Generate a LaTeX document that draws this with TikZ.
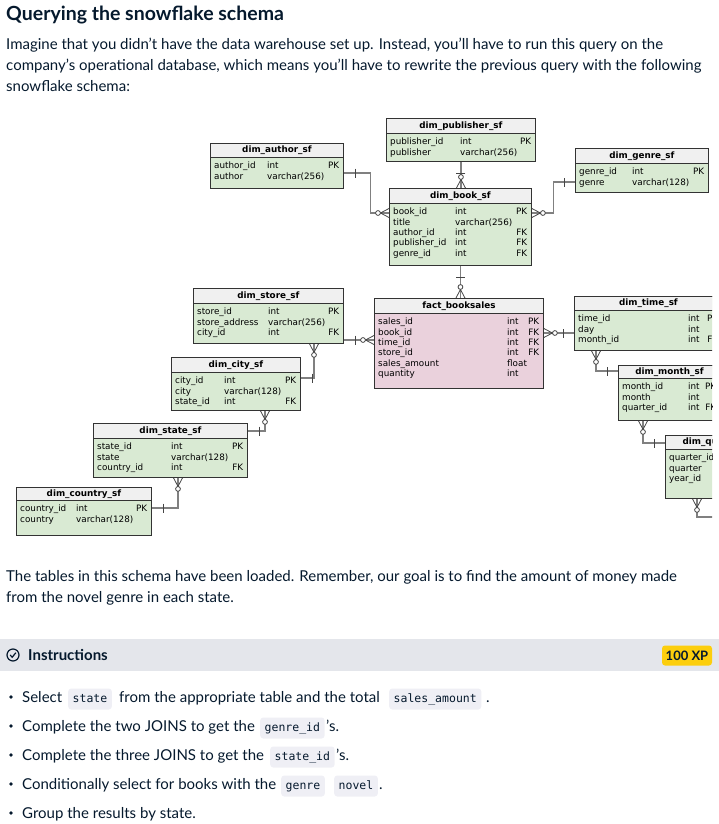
\documentclass[tikz,border=0pt]{standalone}
\usepackage{fontspec}
\setmainfont{Lato}
\newfontfamily\erfont{DejaVu Sans}
\newfontfamily\codefont{DejaVu Sans Mono}
\usetikzlibrary{positioning}
\definecolor{navy}{HTML}{05192D}
\definecolor{erbody}{HTML}{D9EAD3}
\definecolor{erhead}{HTML}{F0F0F0}
\definecolor{erfact}{HTML}{EAD1DC}
\definecolor{erline}{HTML}{333333}
\definecolor{conngray}{HTML}{808080}
\definecolor{markgray}{HTML}{454545}
\definecolor{barbg}{HTML}{E4E6EB}
\definecolor{xpgold}{HTML}{FCCE0D}
\definecolor{codebg}{HTML}{EFEFF5}
% one ER table: name, x, y, width, height, header height, title, fill
\newcommand{\ertable}[8]{%
\node[tblbox, fill=#8, minimum width=#4pt, minimum height=#5pt] (#1) at (#2,#3) {};
\node[tblhead, minimum width=#4pt, minimum height=#6pt] (#1-h) at (#1.north west) {#7};}
% the column lines of a table: name, text width, first column width, rows
\newcommand{\errows}[4]{%
\node[tblrows, text width=#2pt] (#1-t) at ([xshift=4pt,yshift=-4pt]#1-h.south west) {\def\cola{#3pt}#4};}
\newcommand{\erow}[3]{\makebox[\cola][l]{#1}#2\hfill#3\par}
\tikzset{
  tblbox/.style={draw=erline, line width=0.9pt, anchor=north west, inner sep=0pt},
  tblhead/.style={draw=erline, line width=0.9pt, fill=erhead, anchor=north west, inner sep=0pt,
    text height=6.6pt, text depth=2pt, font=\erfont\bfseries\fontsize{8.8}{10}\selectfont},
  tblrows/.style={anchor=north west, inner sep=0pt, align=left,
    font=\erfont\fontsize{8.8}{10.4}\selectfont},
  conn/.style={draw=conngray, line width=1.1pt},
  markline/.style={draw=markgray, line width=0.8pt},
  one/.pic={\draw[markline] (11,-4.5) -- (11,4.5);},
  many/.pic={\draw[markline] (0,-4.5) -- (8.5,0) -- (0,4.5);
    \draw[markline, fill=white] (11,0) circle[radius=2.4pt];},
  titletext/.style={anchor=base west, inner sep=0pt, text=navy, font=\bfseries\fontsize{19.5}{24}\selectfont},
  bodytext/.style={anchor=base west, inner sep=0pt, text=navy, font=\fontsize{15}{18}\selectfont},
  codebox/.style={anchor=base west, fill=codebg, rounded corners=3pt, inner xsep=4.5pt, inner ysep=5pt,
    text height=8.5pt, text depth=2.5pt, text=navy, font=\codefont\fontsize{11.5}{13}\selectfont},
  xpbadge/.style={fill=xpgold, rounded corners=3pt, minimum width=50pt, minimum height=20pt, inner sep=0pt,
    text=navy, font=\bfseries\fontsize{13}{15}\selectfont},
}
\begin{document}
\begin{tikzpicture}[x=1pt, y=-1pt]
\useasboundingbox (0,0) rectangle (719,824);

% heading and introduction
\node[titletext] (title) at (6,21) {Querying the snowflake schema};
\node[bodytext] (intro1) at (6,50) {Imagine that you didn't have the data warehouse set up. Instead, you'll have to run this query on the};
\node[bodytext] (intro2) at (6,71) {company's operational database, which means you'll have to rewrite the previous query with the following};
\node[bodytext] (intro3) at (6,92) {snowflake schema:};

% the schema
\begin{scope}
\clip (0,105) rectangle (712,545);
\ertable{publisher}{386}{118}{149}{43}{15}{dim\_publisher\_sf}{erbody}
\errows{publisher}{141}{70}{\erow{publisher\_id}{int}{PK}\erow{publisher}{varchar(256)}{}}
\ertable{author}{210}{143}{133}{45}{14}{dim\_author\_sf}{erbody}
\errows{author}{125}{53}{\erow{author\_id}{int}{PK}\erow{author}{varchar(256)}{}}
\ertable{book}{389}{188}{142}{77}{15}{dim\_book\_sf}{erbody}
\errows{book}{134}{62}{\erow{book\_id}{int}{PK}\erow{title}{varchar(256)}{}\erow{author\_id}{int}{FK}%
  \erow{publisher\_id}{int}{FK}\erow{genre\_id}{int}{FK}}
\ertable{genre}{575}{148}{133}{44}{15}{dim\_genre\_sf}{erbody}
\errows{genre}{125}{53}{\erow{genre\_id}{int}{PK}\erow{genre}{varchar(128)}{}}
\ertable{store}{193}{288}{150}{55}{15}{dim\_store\_sf}{erbody}
\errows{store}{142}{71}{\erow{store\_id}{int}{PK}\erow{store\_address}{varchar(256)}{}\erow{city\_id}{int}{FK}}
\ertable{city}{171}{357}{129}{53}{15}{dim\_city\_sf}{erbody}
\errows{city}{121}{49}{\erow{city\_id}{int}{PK}\erow{city}{varchar(128)}{}\erow{state\_id}{int}{FK}}
\ertable{state}{93}{423}{154}{54}{15}{dim\_state\_sf}{erbody}
\errows{state}{146}{74}{\erow{state\_id}{int}{PK}\erow{state}{varchar(128)}{}\erow{country\_id}{int}{FK}}
\ertable{country}{16}{487}{135}{48}{13}{dim\_country\_sf}{erbody}
\errows{country}{127}{56}{\erow{country\_id}{int}{PK}\erow{country}{varchar(128)}{}}
\ertable{fact}{374}{298}{169}{90}{15}{fact\_booksales}{erfact}
\errows{fact}{161}{129}{\erow{sales\_id}{int}{PK}\erow{book\_id}{int}{FK}\erow{time\_id}{int}{FK}%
  \erow{store\_id}{int}{FK}\erow{sales\_amount}{float}{}\erow{quantity}{int}{}}
\ertable{time}{574}{296}{148}{54}{14}{dim\_time\_sf}{erbody}
\errows{time}{140}{110}{\erow{time\_id}{int}{PK}\erow{day}{int}{}\erow{month\_id}{int}{FK}}
\ertable{month}{618}{365}{102}{55}{13}{dim\_month\_sf}{erbody}
\errows{month}{94}{66}{\erow{month\_id}{int}{PK}\erow{month}{int}{}\erow{quarter\_id}{int}{FK}}
\ertable{quarter}{665}{435}{108}{63}{14}{dim\_quarter\_sf}{erbody}
\errows{quarter}{100}{70}{\erow{quarter\_id}{int}{PK}\erow{quarter}{int}{}\erow{year\_id}{int}{FK}}

% key points on the table edges
\coordinate (author-pk) at ([yshift=-30pt]author.north east);
\coordinate (book-pk-w) at ([yshift=-25pt]book.north west);
\coordinate (book-pk-e) at ([yshift=-25pt]book.north east);
\coordinate (genre-pk) at ([yshift=-34pt]genre.north west);
\coordinate (store-fk) at ([yshift=-52pt]store.north east);
\coordinate (store-bot) at ([xshift=121pt]store.south west);
\coordinate (city-pk) at ([yshift=-21pt]city.north east);
\coordinate (city-bot) at ([xshift=94pt]city.south west);
\coordinate (state-pk) at ([yshift=-8pt]state.north east);
\coordinate (state-bot) at ([xshift=85pt]state.south west);
\coordinate (country-pk) at ([yshift=-21pt]country.north east);
\coordinate (fact-fk) at ([yshift=-35pt]fact.north east);
\coordinate (time-bot) at ([xshift=22pt]time.south west);
\coordinate (month-pk) at ([yshift=-6pt]month.north west);
\coordinate (month-bot) at ([xshift=25pt]month.south west);
\coordinate (quarter-pk) at ([yshift=-8pt]quarter.north west);
\coordinate (quarter-bot) at ([xshift=32pt]quarter.south west);
\coordinate (year-pk) at (720,517);

% relationships
\draw[conn] (author-pk) -- ++(27,0) |- (book-pk-w);
\draw[conn] (book-pk-e) -- ++(22,0) |- (genre-pk);
\draw[conn] (publisher.south) -- (publisher.south |- book.north);
\draw[conn] (book.south) -- (book.south |- fact.north);
\draw[conn] (store-fk) -- (store-fk -| fact.west);
\draw[conn] (store-bot) |- (city-pk);
\draw[conn] (city-bot) |- (state-pk);
\draw[conn] (state-bot) |- (country-pk);
\draw[conn] (fact-fk) -- (fact-fk -| time.west);
\draw[conn] (time-bot) |- (month-pk);
\draw[conn] (month-bot) |- (quarter-pk);
\draw[conn] (quarter-bot) |- (year-pk);

\pic at (author-pk) {one};
\pic[rotate=180] at (book-pk-w) {many};
\pic at (book-pk-e) {many};
\pic[rotate=180] at (genre-pk) {one};
\pic[rotate=-90] at (publisher.south) {one};
\pic[rotate=90] at (publisher.south |- book.north) {many};
\pic[rotate=-90] at (book.south) {one};
\pic[rotate=90] at (book.south |- fact.north) {many};
\pic at (store-fk) {one};
\pic[rotate=180] at (store-fk -| fact.west) {many};
\pic[rotate=-90] at (store-bot) {many};
\pic at (city-pk) {one};
\pic[rotate=-90] at (city-bot) {many};
\pic at (state-pk) {one};
\pic[rotate=-90] at (state-bot) {many};
\pic at (country-pk) {one};
\pic at (fact-fk) {many};
\pic[rotate=180] at (fact-fk -| time.west) {one};
\pic[rotate=-90] at (time-bot) {many};
\pic[rotate=180] at (month-pk) {one};
\pic[rotate=-90] at (month-bot) {many};
\pic[rotate=180] at (quarter-pk) {one};
\pic[rotate=-90] at (quarter-bot) {many};
\end{scope}

% after the schema
\node[bodytext] (outro1) at (6,581) {The tables in this schema have been loaded. Remember, our goal is to find the amount of money made};
\node[bodytext] (outro2) at (6,602) {from the novel genre in each state.};

% instructions header
\node[fill=barbg, anchor=north west, minimum width=719pt, minimum height=32pt, inner sep=0pt] (instr-bar) at (0,639) {};
\node[draw=navy, circle, line width=1.2pt, minimum size=12pt, inner sep=0pt] (check) at (13,655) {};
\draw[navy, line width=1.2pt] ([shift={(-2.8,0)}]check.center) -- ([shift={(-0.8,2.2)}]check.center) -- ([shift={(2.9,-2.3)}]check.center);
\node[bodytext, font=\bfseries\fontsize{15}{18}\selectfont] (instr) at (28,660) {Instructions};
\node[xpbadge] (xp) at (687,655.5) {100 XP};

% the steps
\foreach \y in {697,726,755,784,813} \fill[navy] (11,\y) circle[radius=1.9pt];
\node[bodytext] (s1a) at (22,702) {Select};
\node[codebox] (s1b) at (68,702) {state};
\node[bodytext] (s1c) at (119,702) {from the appropriate table and the total};
\node[codebox] (s1d) at (389,702) {sales\_amount};
\node[bodytext] (s1e) at (486,702) {.};
\node[bodytext] (s2a) at (22,731) {Complete the two JOINS to get the};
\node[codebox] (s2b) at (260,731) {genre\_id};
\node[bodytext] (s2c) at (326,731) {'s.};
\node[bodytext] (s3a) at (22,760) {Complete the three JOINS to get the};
\node[codebox] (s3b) at (270,760) {state\_id};
\node[bodytext] (s3c) at (336,760) {'s.};
\node[bodytext] (s4a) at (22,789) {Conditionally select for books with the};
\node[codebox] (s4b) at (281,789) {genre};
\node[codebox] (s4c) at (334,789) {novel};
\node[bodytext] (s4d) at (379,789) {.};
\node[bodytext] (s5a) at (22,818) {Group the results by state.};
\end{tikzpicture}
\end{document}
